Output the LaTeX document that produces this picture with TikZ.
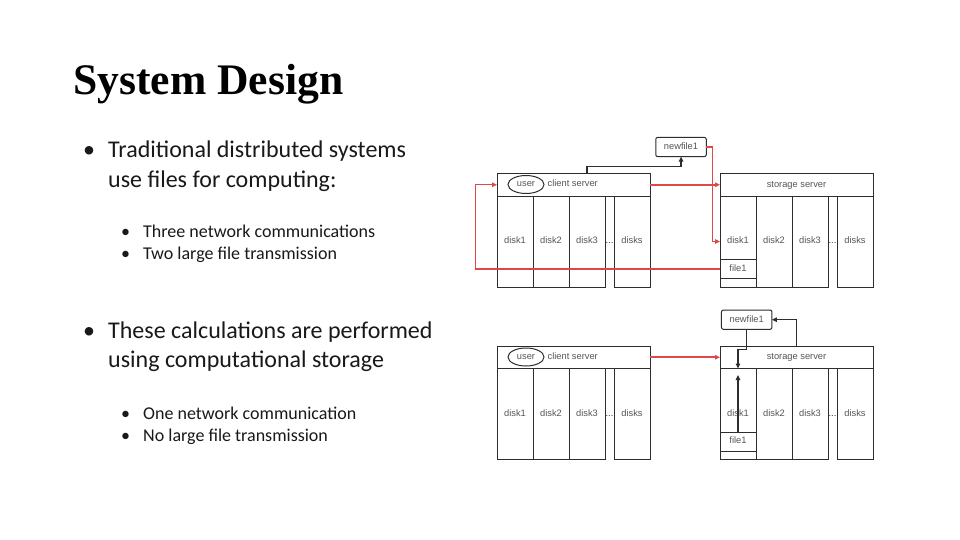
\documentclass[tikz,border=0pt]{standalone}
\usepackage{fontspec}
\setmainfont{Carlito}
\newfontfamily\titlefont{Liberation Serif}
\newfontfamily\diagfont{Liberation Sans}
\usepackage{xcolor}
\usepackage{tikz}
\usetikzlibrary{positioning, arrows.meta, shapes.geometric}

\definecolor{flowred}{RGB}{222,72,72}
\definecolor{linegray}{RGB}{45,45,45}
\definecolor{labelgray}{RGB}{85,85,85}

\begin{document}
\begin{tikzpicture}[x=1pt, y=-1pt,
    small/.style={font=\diagfont\fontsize{9.3}{10}\selectfont, text=labelgray, text height=6.6pt, text depth=2pt},
    header/.style={rectangle, small, draw=linegray, line width=1pt, minimum width=153pt, minimum height=22.5pt, inner sep=0pt, outer sep=0pt, anchor=north west},
    diskcol/.style={rectangle, small, draw=linegray, line width=1pt, minimum width=36pt, minimum height=91pt, inner sep=0pt, outer sep=0pt, anchor=north west},
    filebox/.style={rectangle, small, draw=linegray, fill=white, line width=1pt, minimum width=36pt, minimum height=19pt, inner sep=0pt, outer sep=0pt, anchor=north west},
    newbox/.style={rectangle, small, rounded corners=2pt, draw=linegray, fill=white, line width=1pt, minimum width=50.5pt, minimum height=19.3pt, inner sep=0pt, outer sep=0pt},
    userbox/.style={ellipse, small, draw=linegray, line width=1pt, minimum width=36pt, minimum height=18pt, inner sep=0pt},
    lbl/.style={small, inner sep=0pt},
    redflow/.style={draw=flowred, line width=1.4pt, -{Triangle[length=5pt, width=4.5pt]}},
    blackflow/.style={draw=linegray, line width=1.2pt, -{Triangle[length=5pt, width=4.5pt]}},
    bigtext/.style={anchor=base west, align=left, inner sep=0pt, font=\fontsize{24}{29}\selectfont, text=black!90},
    smalltext/.style={anchor=base west, align=left, inner sep=0pt, font=\fontsize{18}{22}\selectfont, text=black!90}]

    \fill[white] (0,0) rectangle (960,540);
    \useasboundingbox (0,0) rectangle (960,540);

    % slide text
    \node[anchor=base west, inner sep=0pt, font=\titlefont\bfseries\fontsize{43.6}{50}\selectfont] (title) at (73,95) {System Design};

    % base of a two-line node is its last line
    \node[bigtext] (dot1) at (83,158) {\textbullet};
    \node[bigtext] (item1) at (108,187) {Traditional distributed systems\\use files for computing:};
    \node[smalltext] (dot1a) at (121,237) {\textbullet};
    \node[smalltext] (dot1b) at (121,259) {\textbullet};
    \node[smalltext] (item1a) at (143,259) {Three network communications\\Two large file transmission};

    \node[bigtext] (dot2) at (83,338) {\textbullet};
    \node[bigtext] (item2) at (108,367) {These calculations are performed\\using computational storage};
    \node[smalltext] (dot2a) at (121,419) {\textbullet};
    \node[smalltext] (dot2b) at (121,441) {\textbullet};
    \node[smalltext] (item2a) at (143,441) {One network communication\\No large file transmission};

    % upper diagram: traditional way
    \node[header] (cs1) at (497,173.5) {};
    \node[userbox] (user1) at (526,184.5) {user};
    \node[lbl, anchor=west] at (547.5,184.5) {client server};
    \node[diskcol] (c1) at (497,196) {disk1};
    \node[diskcol, right=0pt of c1] (c2) {disk2};
    \node[diskcol, right=0pt of c2] (c3) {disk3};
    \node[diskcol, right=9pt of c3] (c4) {disks};
    \node[lbl, text=linegray] at (609.5,241.5) {...};

    \node[header] (ss1) at (720,173.5) {storage server};
    \node[diskcol] (s1) at (720,196) {disk1};
    \node[diskcol, right=0pt of s1] (s2) {disk2};
    \node[diskcol, right=0pt of s2] (s3) {disk3};
    \node[diskcol, right=9pt of s3] (s4) {disks};
    \node[lbl, text=linegray] at (832.5,241.5) {...};
    \node[filebox] (f1) at (720,259.5) {file1};
    \node[newbox] (nf1) at (681,147) {newfile1};

    \draw[blackflow] ([xshift=90pt]cs1.north west) -- ++(0,-7) -| (nf1.south);
    \draw[redflow, line width=2pt] (cs1.east) -- (ss1.west);
    \draw[redflow] (nf1.east) -- ++(6,0) |- (s1.west);
    \draw[redflow] (f1.west) -- ++(-244.5,0) |- (cs1.west);

    % lower diagram: computational storage
    \node[header] (cs2) at (497,346) {};
    \node[userbox] (user2) at (526,357) {user};
    \node[lbl, anchor=west] at (547.5,357) {client server};
    \node[diskcol] (c5) at (497,368.5) {disk1};
    \node[diskcol, right=0pt of c5] (c6) {disk2};
    \node[diskcol, right=0pt of c6] (c7) {disk3};
    \node[diskcol, right=9pt of c7] (c8) {disks};
    \node[lbl, text=linegray] at (609.5,414) {...};

    \node[header] (ss2) at (720,346) {storage server};
    \node[diskcol] (s5) at (720,368.5) {disk1};
    \node[diskcol, right=0pt of s5] (s6) {disk2};
    \node[diskcol, right=0pt of s6] (s7) {disk3};
    \node[diskcol, right=9pt of s7] (s8) {disks};
    \node[lbl, text=linegray] at (832.5,414) {...};
    \node[filebox] (f2) at (720,432) {file1};
    \node[newbox] (nf2) at (746.7,319.7) {newfile1};

    \draw[redflow, line width=2pt] (cs2.east) -- (ss2.west);
    \draw[blackflow] (nf2.south) -- ++(0,20) -| ([xshift=18pt]ss2.south west);
    \draw[blackflow] (f2.north) -- ++(0,-57);
    \draw[blackflow] (ss2.north) |- (nf2.east);
\end{tikzpicture}
\end{document}
